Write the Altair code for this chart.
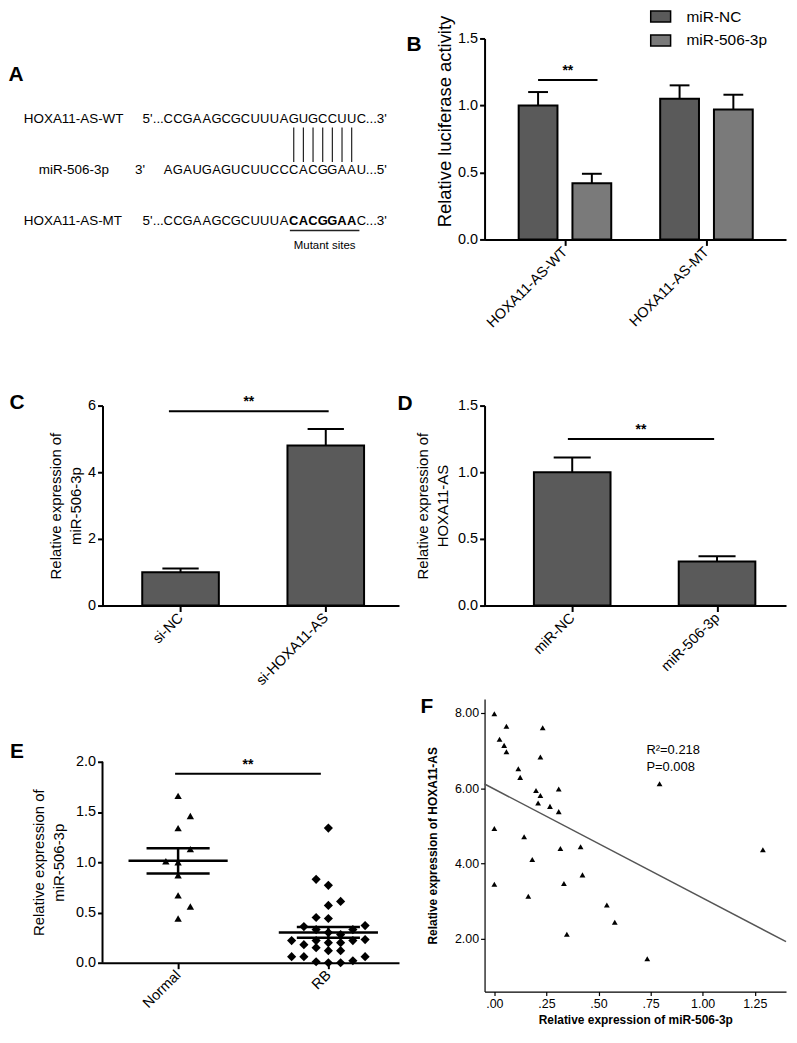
import altair as alt
import pandas as pd

FONT = "Liberation Sans"

# ---------------- data ----------------
# Panel A (sequence alignment)
seq_names = ["HOXA11-AS-WT", "miR-506-3p", "HOXA11-AS-MT"]
seq_prefix = ["5'...", "3'", "5'..."]
seq_strings = ["CCGAAGCGCUUUAGUGCCUUC", "AGAUGAGUCUUCCCACGGAAU", "CCGAAGCGCUUUACACGGAAC"]
seq_suffix = ["...3'", "...5'", "...3'"]
mutant_text = "Mutant sites"

# Panel B (luciferase)
b_constructs = ["HOXA11-AS-WT", "HOXA11-AS-MT"]
b_treatments = ["miR-NC", "miR-506-3p"]
b_nc_mean = [1.00, 1.05]
b_nc_err = [0.10, 0.10]
b_mir_mean = [0.42, 0.97]
b_mir_err = [0.07, 0.11]

# Panel C
c_groups = ["si-NC", "si-HOXA11-AS"]
c_mean = [1.00, 4.80]
c_err = [0.11, 0.50]

# Panel D
d_groups = ["miR-NC", "miR-506-3p"]
d_mean = [1.00, 0.33]
d_err = [0.11, 0.04]

# Panel E
e_groups = ["Normal", "RB"]
e_normal = [1.66, 1.46, 1.34, 1.13, 1.01, 1.00, 0.87, 0.67, 0.56, 0.44]
e_normal_col = [0, 1, 0, 1, -1, 0, 0, 0, 1, 0]
e_rb = [1.34, 0.83, 0.77, 0.61, 0.57, 0.45, 0.44, 0.36, 0.37, 0.33,
        0.33, 0.30, 0.28, 0.22, 0.18, 0.22, 0.20, 0.22, 0.23, 0.15,
        0.12, 0.12, 0.06, 0.06, 0.06, 0.01, 0.00, 0.00, 0.02, 0.20]
e_rb_col = [0, -1, 0, 1, 0, -1, 0, -2, 3, -1,
            2, 0, 1, -3, -2, -1, 0, 2, 3, -1,
            0, 1, -3, -2, 3, -1, 0, 1, 2, 1]
e_yticks = [0, 0.5, 1.0, 1.5, 2.0]

# Panel F
f_mir = [0.00, 0.058, 0.025, 0.047, 0.058, 0.232, 0.221, 0.115, 0.124, 0.309,
         0.200, 0.221, 0.210, 0.267, 0.309, 0.00, 0.143, 0.317, 0.414, 0.182,
         0.423, 0.00, 0.334, 0.163, 0.540, 0.578, 0.348, 0.734, 0.793, 1.289]
f_hoxa = [7.98, 7.65, 7.30, 7.14, 6.97, 7.61, 6.83, 6.52, 6.29, 5.98,
          5.94, 5.81, 5.61, 5.52, 5.38, 4.93, 4.71, 4.40, 4.45, 4.11,
          3.70, 3.45, 3.47, 3.13, 2.90, 2.44, 2.12, 1.47, 6.12, 4.37]
f_stats = ["R\u00b2=0.218", "P=0.008"]

# ---------------- styling constants ----------------
NC_FILL = "#5a5a5a"
MIR_FILL = "#7a7a7a"
LABEL_FS = 14.5
LETTER = dict(font=FONT, fontSize=21, fontWeight="bold", color="black")


def letter(txt, dx, dy):
    return alt.Chart(pd.DataFrame({"t": [txt]})).mark_text(
        align="center", baseline="middle", **LETTER
    ).encode(x=alt.value(dx), y=alt.value(dy), text="t:N")


def gp_y_axis(title, values, fmt, pad, tsize=15, domain=True, title_y=None):
    kw = {}
    if title_y is not None:
        kw["titleY"] = title_y
    return alt.Axis(title=title, values=values, format=fmt, domain=domain, domainWidth=2, tickWidth=2,
                    tickSize=5, labelFontSize=LABEL_FS, labelPadding=2, titleFontSize=tsize,
                    titlePadding=pad, titleLineHeight=20, labelFont=FONT, **kw)


def gp_x_axis(names):
    expr = "[" + ",".join("'" + n + "'" for n in names) + "][datum.value]"
    return alt.Axis(title=None, values=list(range(len(names))), labelExpr=expr,
                    labelAngle=-45, labelAlign="right", labelBaseline="middle",
                    domainWidth=2, tickWidth=2, tickSize=6, labelFontSize=LABEL_FS,
                    labelPadding=4, labelFont=FONT)


# ---------------- Panel A ----------------
A_W, A_H = 298, 275
ax = alt.Scale(domain=[-6.8, 23.9], nice=False, zero=False)
ay = alt.Scale(domain=[-1.57, -1.57 + A_H / 51.5], nice=False, zero=False, reverse=True)
mut_idx = [i for i, (a, b) in enumerate(zip(seq_strings[0], seq_strings[2])) if a != b]

char_rows = []
for r, s in enumerate(seq_strings):
    for i, ch in enumerate(s):
        char_rows.append({"x": i, "y": r, "ch": ch, "bold": r == 2 and i in mut_idx})
chars = pd.DataFrame(char_rows)
name_x = [-14.95, -13.4, -14.95]
pre_x = [-0.45, -2.4, -0.45]
names_df = pd.DataFrame({"x": name_x, "y": [0, 1, 2], "t": seq_names})
pre_df = pd.DataFrame({"x": pre_x, "y": [0, 1, 2], "t": seq_prefix})
suf_df = pd.DataFrame({"x": [len(s) - 0.55 for s in seq_strings], "y": [0, 1, 2], "t": seq_suffix})
pair_df = pd.DataFrame({"x": mut_idx, "y": [0.17] * len(mut_idx), "y2": [0.84] * len(mut_idx)})
under_df = pd.DataFrame({"x": [min(mut_idx) - 0.4], "x2": [max(mut_idx) + 0.8], "y": [2.18]})
mut_df = pd.DataFrame({"x": [(min(mut_idx) + max(mut_idx)) / 2 + 0.2], "y": [2.48], "t": [mutant_text]})

XA = alt.X("x:Q", scale=ax, axis=None)
YA = alt.Y("y:Q", scale=ay, axis=None)
seq_txt = dict(font=FONT, fontSize=13, baseline="middle", color="black")
lab_txt = dict(font=FONT, fontSize=13.5, baseline="middle", color="black")
a_chars = alt.Chart(chars).transform_filter("!datum.bold").mark_text(align="center", **seq_txt).encode(x=XA, y=YA, text="ch:N")
a_bold = alt.Chart(chars).transform_filter("datum.bold").mark_text(align="center", fontWeight="bold", **seq_txt).encode(x=XA, y=YA, text="ch:N")
a_names = alt.Chart(names_df).mark_text(align="left", **lab_txt).encode(x=XA, y=YA, text="t:N")
a_pre = alt.Chart(pre_df).mark_text(align="right", **lab_txt).encode(x=XA, y=YA, text="t:N")
a_suf = alt.Chart(suf_df).mark_text(align="left", **lab_txt).encode(x=XA, y=YA, text="t:N")
a_pairs = alt.Chart(pair_df).mark_rule(color="#222", strokeWidth=1.2).encode(x=XA, y=YA, y2="y2:Q")
a_under = alt.Chart(under_df).mark_rule(color="#222", strokeWidth=1.5).encode(x=XA, x2="x2:Q", y=YA)
a_mut = alt.Chart(mut_df).mark_text(align="center", font=FONT, fontSize=11.5, baseline="middle", color="black").encode(x=XA, y=YA, text="t:N")
panelA = alt.layer(a_chars, a_bold, a_names, a_pre, a_suf, a_pairs, a_under, a_mut,
                   letter("A", -87, 37)).properties(width=A_W, height=A_H)


# ---------------- bar panels helper ----------------
def bar_panel(df, xdom, ydom, yaxis, xaxis, bar_w, cap_half, sig, width, height,
              color_enc, letter_txt, ldx, ldy):
    xs = alt.Scale(domain=xdom, nice=False, zero=False)
    ys = alt.Scale(domain=ydom, nice=False)
    X = lambda f: alt.X(f, scale=xs, axis=xaxis)
    Y = lambda f: alt.Y(f, scale=ys, axis=yaxis, stack=None)
    bars = alt.Chart(df).mark_bar(size=bar_w, stroke="black", strokeWidth=2, orient="vertical").encode(
        x=X("x:Q"), y=Y("mean:Q"), fill=color_enc)
    base = alt.Chart(df).transform_calculate(top="datum.mean + datum.err",
                                             xl="datum.x - %f" % cap_half,
                                             xr="datum.x + %f" % cap_half)
    stem = base.mark_rule(color="black", strokeWidth=2).encode(x=X("x:Q"), y=Y("mean:Q"), y2="top:Q")
    cap = base.mark_rule(color="black", strokeWidth=2).encode(x=X("xl:Q"), x2="xr:Q", y=Y("top:Q"))
    sig_df = pd.DataFrame([sig])
    sline = alt.Chart(sig_df).mark_rule(color="black", strokeWidth=2).encode(
        x=X("x1:Q"), x2="x2:Q", y=Y("y:Q"))
    stext = alt.Chart(sig_df).transform_calculate(xm="(datum.x1 + datum.x2) / 2").mark_text(
        font=FONT, fontSize=14, fontWeight="bold", dy=-9, color="black", baseline="middle").encode(
        x=X("xm:Q"), y=Y("y:Q"), text="t:N")
    layers = [bars, stem, cap, sline, stext, letter(letter_txt, ldx, ldy)]
    return alt.layer(*layers).properties(width=width, height=height)


# Panel B
b_rows = []
for gi, g in enumerate(b_constructs):
    for ti, t in enumerate(b_treatments):
        m = [b_nc_mean, b_mir_mean][ti][gi]
        e = [b_nc_err, b_mir_err][ti][gi]
        b_rows.append({"x": gi + (ti - 0.5) * 0.38, "mean": m, "err": e, "treat": t})
b_df = pd.DataFrame(b_rows)
# legend position is relative to the top-left plot (panel A) of the grid
b_color = alt.Fill("treat:N", scale=alt.Scale(domain=b_treatments, range=[NC_FILL, MIR_FILL]),
                   legend=alt.Legend(title=None, orient="none", legendX=550, legendY=-33,
                                     symbolType="M-1,-0.55H1V0.55H-1Z", symbolSize=400,
                                     symbolStrokeColor="black", symbolStrokeWidth=1.5,
                                     labelFontSize=15.5, labelFont=FONT, labelColor="black",
                                     labelOffset=15, rowPadding=4))
panelB = bar_panel(b_df, [-0.533, 1.527], [0, 1.5],
                   gp_y_axis("Relative luciferase activity", [0, 0.5, 1.0, 1.5], ".1f", 3, tsize=18.5,
                             title_y=83),
                   gp_x_axis(b_constructs), 39, 0.07,
                   {"x1": -0.19, "x2": 0.23, "y": 1.19, "t": "**"}, 303, 202, b_color, "B", -71, 7)

# Panel C
c_df = pd.DataFrame({"x": list(range(len(c_groups))), "mean": c_mean, "err": c_err, "g": c_groups})
panelC = bar_panel(c_df, [-0.503, 1.47], [0, 6],
                   gp_y_axis(["Relative expression of", "miR-506-3p"], [0, 2, 4, 6], "d", 4),
                   gp_x_axis(c_groups), 77, 0.125,
                   {"x1": -0.08, "x2": 1.02, "y": 5.83, "t": "**"}, 298, 201,
                   alt.value(NC_FILL), "C", -86, -3)

# Panel D
d_df = pd.DataFrame({"x": list(range(len(d_groups))), "mean": d_mean, "err": d_err, "g": d_groups})
panelD = bar_panel(d_df, [-0.571, 1.442], [0, 1.5],
                   gp_y_axis(["Relative expression of", "HOXA11-AS"], [0, 0.5, 1.0, 1.5], ".1f", 7),
                   gp_x_axis(d_groups), 77, 0.128,
                   {"x1": -0.03, "x2": 0.98, "y": 1.25, "t": "**"}, 303, 201,
                   alt.value(NC_FILL), "D", -80, -2)

# ---------------- Panel E ----------------
COL_STEP = 0.0815
E_H = 265
e_df = pd.concat([
    pd.DataFrame({"g": 0, "v": e_normal, "col": e_normal_col}),
    pd.DataFrame({"g": 1, "v": e_rb, "col": e_rb_col}),
], ignore_index=True)
e_df["x"] = e_df["g"] + e_df["col"] * COL_STEP
E_XDOM = [-0.503, 1.47]
exs = alt.Scale(domain=E_XDOM, nice=False, zero=False)
eys = alt.Scale(domain=[0, max(e_yticks) * E_H / 202], nice=False)
e_xaxis = gp_x_axis(e_groups)
e_yaxis = gp_y_axis(["Relative expression of", "miR-506-3p"], e_yticks, ".1f", 9, domain=False,
                    title_y=E_H - 101)
NX = lambda f: alt.X(f, scale=exs, axis=e_xaxis)
NY = lambda f: alt.Y(f, scale=eys, axis=e_yaxis)
e_tri = alt.Chart(e_df).transform_filter("datum.g == 0").mark_point(
    shape="triangle-up", filled=True, size=55, color="black", opacity=1).encode(x=NX("x:Q"), y=NY("v:Q"))
e_dia = alt.Chart(e_df).transform_filter("datum.g == 1").mark_point(
    shape="diamond", filled=True, size=85, color="black", opacity=1).encode(x=NX("x:Q"), y=NY("v:Q"))
e_stats = alt.Chart(e_df).transform_aggregate(
    m="mean(v)", se="stderr(v)", groupby=["g"]).transform_calculate(
    hi="datum.m + datum.se", lo="datum.m - datum.se",
    ml="datum.g - 0.33", mr="datum.g + 0.33", sl="datum.g - 0.21", sr="datum.g + 0.21")
e_mean = e_stats.mark_rule(color="black", strokeWidth=2.5).encode(x=NX("ml:Q"), x2="mr:Q", y=NY("m:Q"))
e_hi = e_stats.mark_rule(color="black", strokeWidth=2.5).encode(x=NX("sl:Q"), x2="sr:Q", y=NY("hi:Q"))
e_lo = e_stats.mark_rule(color="black", strokeWidth=2.5).encode(x=NX("sl:Q"), x2="sr:Q", y=NY("lo:Q"))
e_stem = e_stats.mark_rule(color="black", strokeWidth=2.5).encode(x=NX("g:Q"), y=NY("lo:Q"), y2="hi:Q")
e_sig = pd.DataFrame([{"x1": -0.02, "x2": 0.95, "y": 1.88, "t": "**"}])
e_sline = alt.Chart(e_sig).mark_rule(color="black", strokeWidth=2).encode(x=NX("x1:Q"), x2="x2:Q", y=NY("y:Q"))
e_stext = alt.Chart(e_sig).transform_calculate(xm="(datum.x1 + datum.x2) / 2").mark_text(
    font=FONT, fontSize=14, fontWeight="bold", dy=-9, color="black", baseline="middle").encode(
    x=NX("xm:Q"), y=NY("y:Q"), text="t:N")
# y-axis line spanning only the tick range
e_axis_df = pd.DataFrame({"x": [E_XDOM[0]], "y0": [min(e_yticks)], "y1": [max(e_yticks)]})
e_axline = alt.Chart(e_axis_df).mark_rule(color="black", strokeWidth=2).encode(
    x=NX("x:Q"), y=NY("y0:Q"), y2="y1:Q")
panelE = alt.layer(e_tri, e_dia, e_mean, e_hi, e_lo, e_stem, e_sline, e_stext, e_axline,
                   letter("E", -86, E_H - 202 - 10)).properties(width=298, height=E_H)

# ---------------- Panel F ----------------
F_XDOM = [-0.047, 1.40]
f_df = pd.DataFrame({"mir": f_mir, "hoxa": f_hoxa})
fxs = alt.Scale(domain=F_XDOM, nice=False, zero=False)
fys = alt.Scale(domain=[0.6, 8.37], nice=False, zero=False)
f_xaxis = alt.Axis(title="Relative expression of miR-506-3p", values=[0, 0.25, 0.5, 0.75, 1.0, 1.25],
                   labelExpr="datum.value < 1 ? replace(format(datum.value, '.2f'), '0.', '.') : format(datum.value, '.2f')",
                   domainWidth=1.2, tickWidth=1.2, tickSize=4, labelFontSize=12.5, labelFont=FONT,
                   titleFontSize=12, titleFontWeight="bold", titlePadding=5)
f_yaxis = alt.Axis(title="Relative expression of HOXA11-AS", values=[2, 4, 6, 8], format=".2f",
                   domainWidth=1.2, tickWidth=1.2, tickSize=4, labelFontSize=12.5, labelFont=FONT,
                   titleFontSize=12, titleFontWeight="bold", titlePadding=15)
FX = lambda f: alt.X(f, scale=fxs, axis=f_xaxis)
FY = lambda f: alt.Y(f, scale=fys, axis=f_yaxis)
f_pts = alt.Chart(f_df).mark_point(shape="triangle-up", filled=True, size=34, color="black", opacity=1).encode(
    x=FX("mir:Q"), y=FY("hoxa:Q"))
f_line = alt.Chart(f_df).transform_regression("mir", "hoxa", extent=F_XDOM).mark_line(
    color="#555555", strokeWidth=1.5).encode(x=FX("mir:Q"), y=FY("hoxa:Q"))
f_txt_df = pd.DataFrame({"mir": [0.73, 0.73], "hoxa": [7.02, 6.57], "t": f_stats})
f_txt = alt.Chart(f_txt_df).mark_text(align="left", baseline="middle", font=FONT, fontSize=13, color="black").encode(
    x=FX("mir:Q"), y=FY("hoxa:Q"), text="t:N")
panelF = alt.layer(f_line, f_pts, f_txt, letter("F", -58, 8)).properties(width=303, height=294)

# ---------------- layout ----------------
top = alt.concat(panelA, panelB, panelC, panelD, panelE, panelF, columns=2,
                 spacing={"row": 94, "column": 86}, bounds="flush")

chart = top.properties(padding={"top": -5, "left": 0, "right": 0, "bottom": 0}).configure(
    font=FONT).configure_view(stroke=None).configure_axis(
    domainColor="black", tickColor="black", labelColor="black", titleColor="black",
    grid=False, titleFontWeight="normal", titleFont=FONT, labelFont=FONT)

chart.save("out.html", embed_options={"renderer": "svg", "actions": False})
